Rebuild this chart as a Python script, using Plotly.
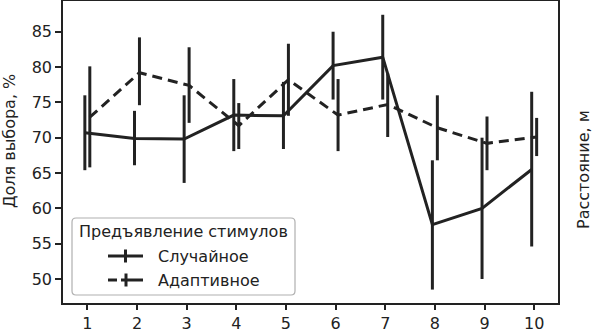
import plotly.graph_objects as go

# ---- data ----
distance = [1, 2, 3, 4, 5, 6, 7, 8, 9, 10]
random_mean = [70.7, 69.9, 69.8, 73.2, 73.1, 80.2, 81.4, 57.7, 60.0, 65.5]
random_lo = [65.4, 66.1, 63.6, 68.1, 68.4, 75.4, 75.4, 48.5, 50.0, 54.6]
random_hi = [76.0, 73.8, 76.0, 78.3, 77.9, 85.0, 87.4, 66.8, 70.0, 76.5]
adaptive_mean = [72.9, 79.2, 77.4, 71.7, 78.2, 73.2, 74.7, 71.4, 69.2, 70.1]
adaptive_lo = [65.8, 74.6, 72.1, 68.4, 73.1, 68.1, 70.1, 66.8, 65.4, 67.4]
adaptive_hi = [80.1, 84.2, 82.8, 74.9, 83.3, 78.3, 79.1, 76.0, 73.0, 72.8]
y_ticks = [50, 55, 60, 65, 70, 75, 80, 85]
legend_title = "Предъявление стимулов"
series_names = ["Случайное", "Адаптивное"]

# ---- layout geometry ----
W, H = 592, 329
L, R, T, B = 63, 34, 1, 26
PW, PH = W - L - R, H - T - B
FONT = "DejaVu Sans"
INK = "#222222"
DODGE = 0.05


def px_x(px):
    return (px - L) / PW


def px_y(py):
    return (H - B - py) / PH


fig = go.Figure()

for name, mean, lo, hi, dash, off in [
    (series_names[0], random_mean, random_lo, random_hi, "solid", -DODGE),
    (series_names[1], adaptive_mean, adaptive_lo, adaptive_hi, "10px,6px", DODGE),
]:
    fig.add_trace(go.Scatter(
        x=[d + off for d in distance], y=mean, mode="lines", name=name,
        line=dict(color=INK, width=3, dash=dash),
        error_y=dict(type="data", symmetric=False,
                     array=[h - m for h, m in zip(hi, mean)],
                     arrayminus=[m - l for m, l in zip(mean, lo)],
                     width=0, thickness=3, color=INK),
        showlegend=False,
    ))

shapes = []
annotations = []

# legend box (rounded)
x0, x1, y0, y1 = px_x(72), px_x(295), px_y(295), px_y(218)
rx, ry = 4 / PW, 4 / PH
path = (f"M {x0+rx},{y0} L {x1-rx},{y0} Q {x1},{y0} {x1},{y0+ry} "
        f"L {x1},{y1-ry} Q {x1},{y1} {x1-rx},{y1} L {x0+rx},{y1} "
        f"Q {x0},{y1} {x0},{y1-ry} L {x0},{y0+ry} Q {x0},{y0} {x0+rx},{y0} Z")
shapes.append(dict(type="path", xref="paper", yref="paper", path=path,
                   line=dict(color="#b0b0b0", width=1.2), fillcolor="rgba(255,255,255,0.85)",
                   layer="above"))

# legend glyphs
gy1, gy2 = 256, 280
shapes.append(dict(type="line", xref="paper", yref="paper", x0=px_x(108), x1=px_x(143),
                   y0=px_y(gy1), y1=px_y(gy1), line=dict(color=INK, width=3), layer="above"))
shapes.append(dict(type="line", xref="paper", yref="paper", x0=px_x(125.5), x1=px_x(125.5),
                   y0=px_y(gy1 - 6.5), y1=px_y(gy1 + 6.5), line=dict(color=INK, width=3), layer="above"))
shapes.append(dict(type="line", xref="paper", yref="paper", x0=px_x(108), x1=px_x(117),
                   y0=px_y(gy2), y1=px_y(gy2), line=dict(color=INK, width=3), layer="above"))
shapes.append(dict(type="line", xref="paper", yref="paper", x0=px_x(121), x1=px_x(143),
                   y0=px_y(gy2), y1=px_y(gy2), line=dict(color=INK, width=3), layer="above"))
shapes.append(dict(type="line", xref="paper", yref="paper", x0=px_x(126), x1=px_x(126),
                   y0=px_y(gy2 - 6.5), y1=px_y(gy2 + 6.5), line=dict(color=INK, width=3), layer="above"))

annotations.append(dict(text=legend_title, xref="paper", yref="paper", x=px_x(183.5), y=px_y(231.5),
                        xanchor="center", yanchor="middle", showarrow=False,
                        font=dict(family=FONT, size=16, color=INK)))
for name, gy in zip(series_names, [gy1, gy2]):
    annotations.append(dict(text=name, xref="paper", yref="paper", x=px_x(156), y=px_y(gy),
                            xanchor="left", yanchor="middle", showarrow=False,
                            font=dict(family=FONT, size=16, color=INK)))

# axis titles
annotations.append(dict(text="Доля выбора, %", xref="paper", yref="paper", x=px_x(9), y=px_y(141),
                        xanchor="center", yanchor="middle", textangle=-90, showarrow=False,
                        font=dict(family=FONT, size=16, color=INK)))
annotations.append(dict(text="Расстояние, м", xref="paper", yref="paper", x=px_x(583), y=px_y(170),
                        xanchor="center", yanchor="middle", textangle=-90, showarrow=False,
                        font=dict(family=FONT, size=16, color=INK)))

fig.update_layout(
    width=W, height=H,
    margin=dict(l=L, r=R, t=T, b=B, autoexpand=False),
    paper_bgcolor="white", plot_bgcolor="white",
    font=dict(family=FONT, size=16, color=INK),
    shapes=shapes, annotations=annotations,
    xaxis=dict(range=[0.51, 10.48], tickvals=distance, ticks="outside", ticklen=5, tickwidth=1.5,
               tickcolor=INK, showline=True, linecolor=INK, linewidth=1.5, mirror=True,
               showgrid=False, zeroline=False, tickfont=dict(family=FONT, size=16, color=INK)),
    yaxis=dict(range=[46.6, 89.35], tickvals=y_ticks, ticks="outside", ticklen=6, tickwidth=1.5,
               tickcolor=INK, showline=True, linecolor=INK, linewidth=1.5, mirror=True,
               showgrid=False, zeroline=False, tickfont=dict(family=FONT, size=16, color=INK)),
)

fig.write_html("out.html", config={"displayModeBar": False},
               post_script="document.body.style.margin='0';document.body.style.overflow='hidden';")
